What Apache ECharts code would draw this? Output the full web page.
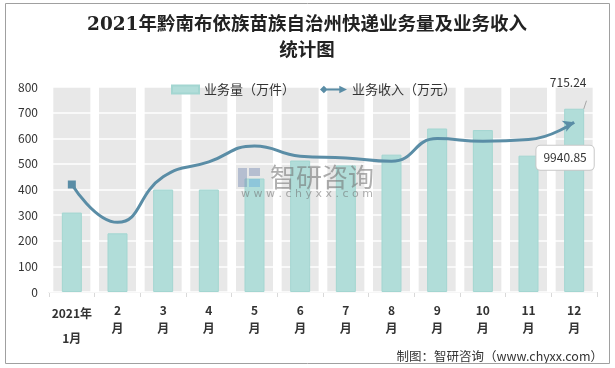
<!DOCTYPE html>
<html>
<head>
<meta charset="utf-8">
<script src="https://cdn.jsdelivr.net/npm/echarts@6/dist/echarts.min.js"></script>
<style>
html,body{margin:0;padding:0;background:#fff;}
#c{width:615px;height:368px;}
</style>
</head>
<body>
<div id="c"></div>
<script>
const categories = ['2021年\n1月','2\n月','3\n月','4\n月','5\n月','6\n月','7\n月','8\n月','9\n月','10\n月','11\n月','12\n月'];
const volume = [310, 229, 400, 400, 443, 513, 494, 536, 638, 632, 532, 715.24];   // 业务量（万件）
const revenue = [6293, 4080, 6740, 7615, 8550, 7950, 7850, 7655, 8980, 8825, 8920, 9940.85]; // 业务收入（万元）
const yTicks = [0, 100, 200, 300, 400, 500, 600, 700, 800];

const teal = '#b1ddd9';
const lineColor = '#5a8da6';
const font = '"Noto Sans CJK SC", "Microsoft YaHei", sans-serif';

const chart = echarts.init(document.getElementById('c'), null, {renderer: 'canvas'});

const catData = categories.map((c, i) => i === 0
  ? {value: c, textStyle: {lineHeight: 25}}
  : {value: c});

const lineData = revenue.map((v, i) => {
  if (i === 0) return {value: v, symbol: 'rect', symbolSize: 8};
  if (i === revenue.length - 1) return {
    value: v, symbol: 'arrow', symbolSize: [9, 11], symbolRotate: -68,
    label: {
      show: true, position: 'bottom', distance: 14, offset: [-4, 0],
      formatter: '{c}', color: '#333', fontSize: 12, fontFamily: font,
      backgroundColor: '#fff', borderColor: '#c8c8c8', borderWidth: 1,
      borderRadius: 4, padding: [6, 7]
    }
  };
  return {value: v, symbol: 'none'};
});

const volData = volume.map((v, i) => i === volume.length - 1 ? {
  value: v,
  label: {show: true, position: 'top', distance: 20, offset: [-6, 0], color: '#333', fontSize: 12, fontFamily: font, formatter: '{c}'},
  labelLine: {show: true}
} : v);

const option = {
  animation: false,
  backgroundColor: '#fff',
  graphic: [
    {type: 'rect', shape: {x: 5.5, y: 3.5, width: 604, height: 360}, style: {fill: 'none', stroke: '#a0a0a0', lineWidth: 1}, z: 100},
    {type: 'text', x: 307, y: 25, style: {text: '2021年黔南布依族苗族自治州快递业务量及业务收入', textAlign: 'center', textVerticalAlign: 'middle', font: 'bold 18.5px "DejaVu Serif", "Noto Sans CJK SC", serif', fill: '#222'}},
    {type: 'text', x: 307, y: 49, style: {text: '统计图', textAlign: 'center', textVerticalAlign: 'middle', font: 'bold 18.5px "Noto Sans CJK SC", serif', fill: '#222'}},
    {type: 'text', x: 603, y: 356, style: {text: '制图：智研咨询（www.chyxx.com）', textAlign: 'right', textVerticalAlign: 'middle', font: '12.5px "Noto Sans CJK SC", sans-serif', fill: '#333'}},
    {type: 'rect', shape: {x: 238, y: 168, width: 9, height: 19}, style: {fill: 'rgba(120,140,180,0.45)'}, z: 50},
    {type: 'rect', shape: {x: 249, y: 168, width: 11, height: 8}, style: {fill: 'rgba(120,140,180,0.45)'}, z: 50},
    {type: 'rect', shape: {x: 249, y: 179, width: 11, height: 8}, style: {fill: 'rgba(100,170,220,0.45)'}, z: 50},
    {type: 'text', x: 322, y: 177, style: {text: '智研咨询', textAlign: 'center', textVerticalAlign: 'middle', font: '26px "Noto Sans CJK SC", sans-serif', fill: 'rgba(110,110,110,0.55)'}, z: 50},
    {type: 'text', x: 307, y: 194, style: {text: 'w w w . c h y x x . c o m', textAlign: 'center', textVerticalAlign: 'middle', font: '11px "DejaVu Sans", sans-serif', fill: 'rgba(110,110,110,0.55)'}, z: 50}
  ],
  legend: {
    left: 166, top: 78,
    itemWidth: 27, itemHeight: 8, itemGap: 25,
    textStyle: {fontSize: 13, color: '#333', fontFamily: font},
    data: [
      {name: '业务量（万件）', icon: 'rect'},
      {name: '业务收入（万元）', icon: 'path://M0,4 L4,0 L8,4 L4,8 Z M6,3 L21,3 L21,5 L6,5 Z M20,0 L28,4 L20,8 Z'}
    ]
  },
  grid: {left: 49, right: 18, top: 87, bottom: 76},
  xAxis: [
    {
      type: 'category', data: catData, boundaryGap: true,
      axisLine: {lineStyle: {color: '#d9d9d9'}},
      axisTick: {show: true, length: 5, lineStyle: {color: '#d9d9d9'}},
      axisLabel: {fontSize: 12, fontWeight: 'bold', color: '#333', fontFamily: font, lineHeight: 18, margin: 9, interval: 0}
    },
    {type: 'category', data: categories, show: false}
  ],
  yAxis: [
    {
      type: 'value', min: 0, max: 800, interval: 100, z: 1,
      axisLine: {show: false}, axisTick: {show: false},
      axisLabel: {fontSize: 12, color: '#333', fontFamily: font, margin: 11},
      splitLine: {show: true, lineStyle: {color: '#ffffff', width: 1.5}}
    },
    {type: 'value', min: 0, max: 12000, show: false, splitLine: {show: false}}
  ],
  series: [
    {
      name: 'bg', type: 'bar', xAxisIndex: 1, yAxisIndex: 0, z: 0,
      data: categories.map(() => yTicks[yTicks.length - 1]),
      barWidth: 37, itemStyle: {color: '#e8e8e8'}, silent: true
    },
    {
      name: '业务量（万件）', type: 'bar', xAxisIndex: 0, yAxisIndex: 0, z: 2,
      data: volData, barWidth: 20,
      itemStyle: {color: teal, borderColor: '#a3d6d1', borderWidth: 1},
      labelLine: {show: true, lineStyle: {color: '#a6a6a6', width: 1}}
    },
    {
      name: '业务收入（万元）', type: 'line', xAxisIndex: 0, yAxisIndex: 1, z: 3,
      data: lineData, smooth: 0.5, showSymbol: true,
      lineStyle: {color: lineColor, width: 3},
      itemStyle: {color: lineColor}
    }
  ]
};
chart.setOption(option);
</script>
</body>
</html>
